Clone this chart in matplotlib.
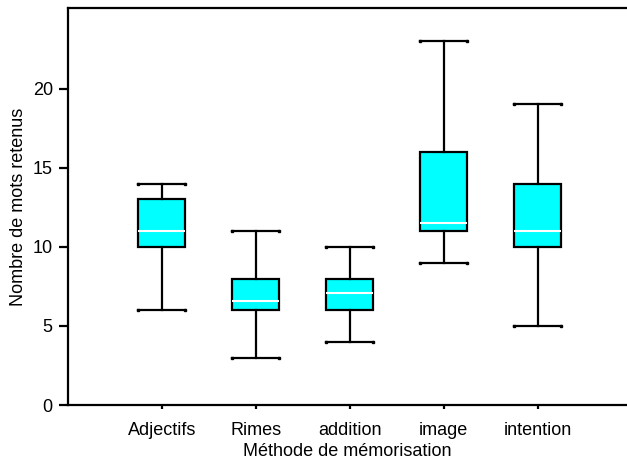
import numpy as np
import matplotlib.pyplot as plt

plt.rcParams['font.family'] = ['Liberation Sans', 'DejaVu Sans']

methodes = ["Adjectifs", "Rimes", "addition", "image", "intention"]
w_bas = [6, 3, 4, 9, 5]
q1 = [10, 6, 6, 11, 10]
mediane = [11, 6.6, 7.1, 11.5, 11]
q3 = [13, 8, 8, 16, 14]
w_haut = [14, 11, 10, 23, 19]

stats = []
for i, nom in enumerate(methodes):
    stats.append(dict(label=nom, whislo=w_bas[i], q1=q1[i], med=mediane[i],
                      q3=q3[i], whishi=w_haut[i], fliers=[]))

fig = plt.figure(figsize=(6.27, 4.63), dpi=100)
ax = fig.add_axes([0.1085, 0.125, 0.8915, 0.858])

pos = np.arange(1, len(methodes) + 1)
ax.bxp(stats, positions=pos, widths=0.5, patch_artist=True, showfliers=False,
       boxprops=dict(facecolor='#00ffff', edgecolor='black', linewidth=1.6),
       medianprops=dict(color='white', linewidth=1.5),
       whiskerprops=dict(color='black', linewidth=1.6),
       capprops=dict(color='black', linewidth=1.6, marker='s', markersize=2),
       capwidths=0.5)

ax.set_xlim(0, 5.95)
ax.set_ylim(0, 25.1)
ax.set_yticks([0, 5, 10, 15, 20])
ax.set_xticks(pos)
ax.set_xticklabels(methodes)
ax.tick_params(direction='out', width=1.6, labelsize=13)
ax.tick_params(axis='y', length=6.5, pad=4.5)
ax.tick_params(axis='x', length=3, pad=9)
ax.spines['right'].set_visible(False)
for s in ['left', 'bottom', 'top']:
    ax.spines[s].set_linewidth(1.6)

ax.set_xlabel("Méthode de mémorisation", fontsize=13, labelpad=3)
ax.set_ylabel("Nombre de mots retenus", fontsize=13, labelpad=4)

plt.savefig("out.png", dpi=100)
